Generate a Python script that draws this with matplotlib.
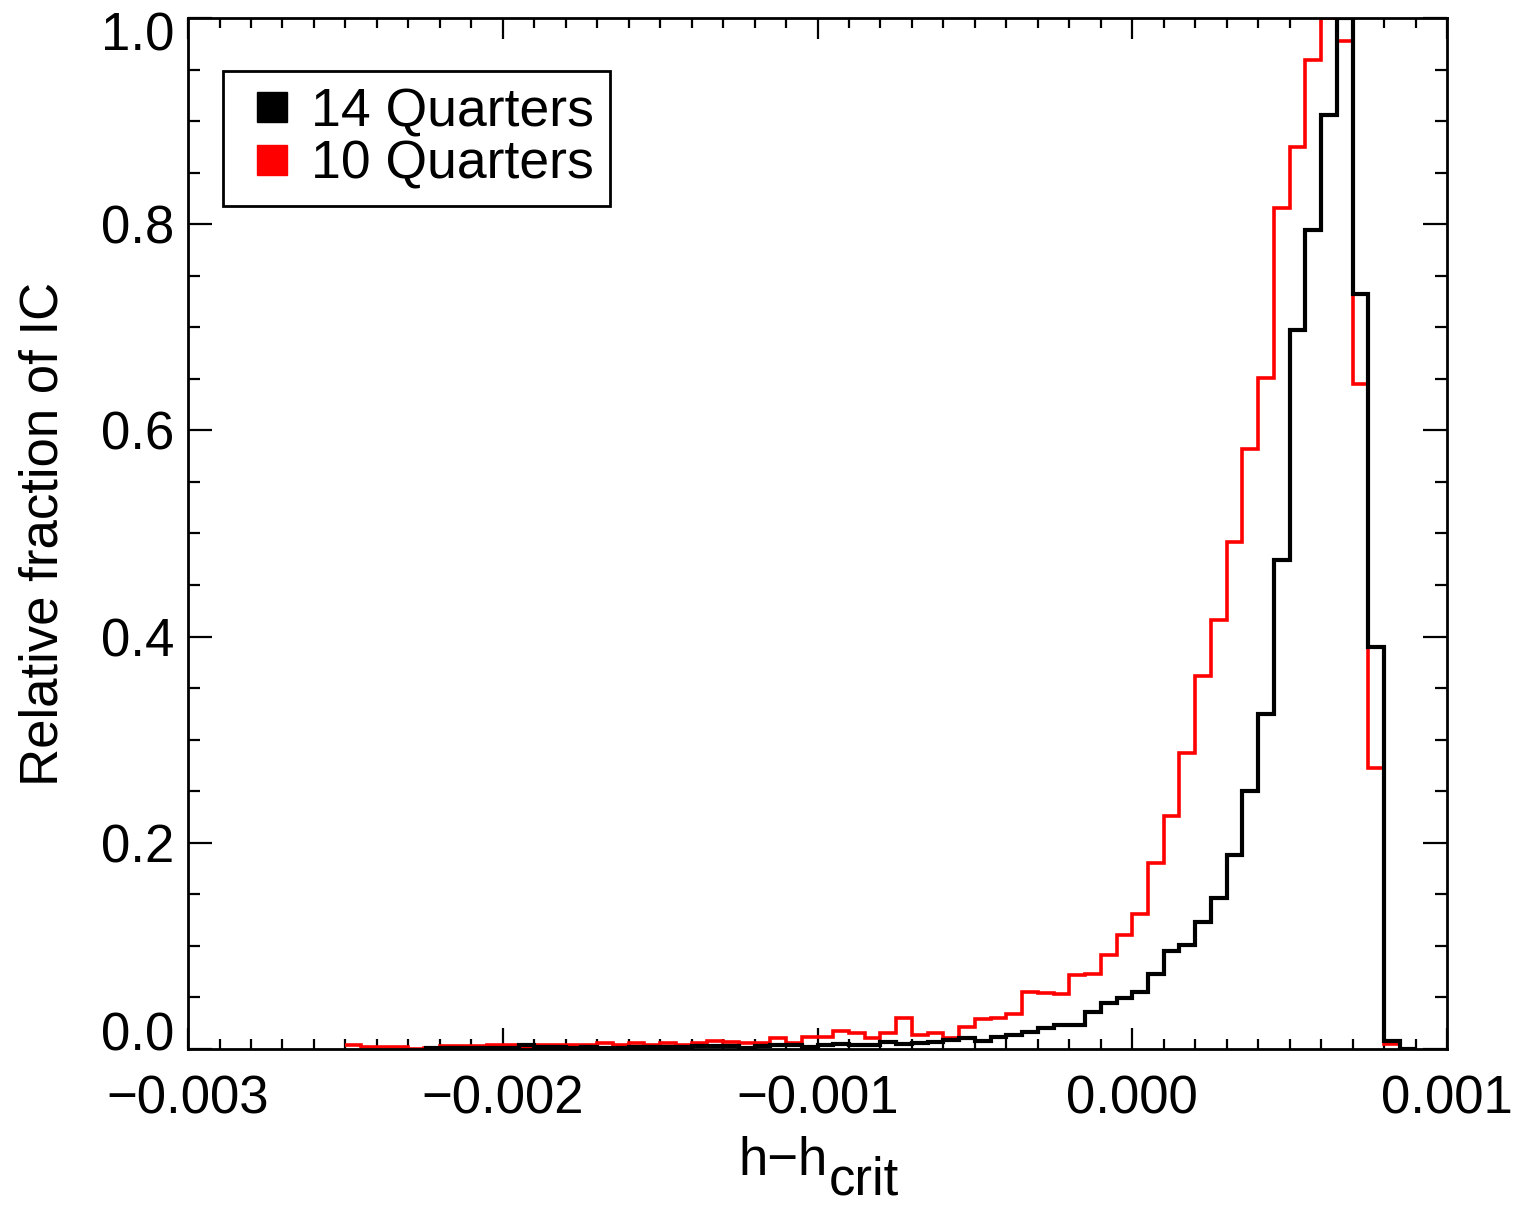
import numpy as np
import matplotlib
matplotlib.use("Agg")
import matplotlib.pyplot as plt
from matplotlib.lines import Line2D
from matplotlib.ticker import MultipleLocator
from matplotlib.transforms import ScaledTranslation

plt.rcParams['font.family'] = ['Liberation Sans', 'DejaVu Sans']

# Гистограммы: ширина бина 5e-5, от -0.0025 до 0.0009
bin_lo = -0.0025
bin_w = 0.00005

q10 = [0.004, 0.002, 0.002, 0.002, 0.0, 0.0005, 0.003, 0.003, 0.003, 0.004,
       0.0035, 0.001, 0.0035, 0.0035, 0.0035, 0.004, 0.006, 0.004, 0.006, 0.004,
       0.006, 0.004, 0.0055, 0.0078, 0.007, 0.006, 0.006, 0.0103, 0.0055, 0.0113,
       0.0113, 0.0175, 0.0152, 0.011, 0.016, 0.030, 0.0136, 0.0152, 0.011, 0.021,
       0.029, 0.030, 0.034, 0.0554, 0.054, 0.053, 0.072, 0.0727, 0.091, 0.111,
       0.131, 0.180, 0.226, 0.287, 0.362, 0.416, 0.492, 0.582, 0.651, 0.816,
       0.875, 0.959, 1.0, 0.978, 0.645, 0.273, 0.005, 0.0]

q14 = [0.0, 0.0, 0.0, 0.0, 0.0, 0.0005, 0.001, 0.001, 0.001, 0.001,
       0.001, 0.0035, 0.0015, 0.0015, 0.001, 0.0015, 0.001, 0.001, 0.002, 0.002,
       0.0015, 0.002, 0.0025, 0.0025, 0.003, 0.001, 0.003, 0.004, 0.004, 0.002,
       0.004, 0.0045, 0.004, 0.004, 0.007, 0.0045, 0.0055, 0.007, 0.009, 0.011,
       0.008, 0.012, 0.014, 0.0165, 0.020, 0.0235, 0.0236, 0.036, 0.0443, 0.0495,
       0.055, 0.073, 0.095, 0.101, 0.123, 0.146, 0.188, 0.250, 0.325, 0.474,
       0.697, 0.794, 0.906, 1.0, 0.732, 0.390, 0.008, 0.0]

edges = bin_lo + bin_w * np.arange(len(q10) + 1)
start14 = 5  # чёрная гистограмма начинается с -0.00225

xtick_vals = [-0.003, -0.002, -0.001, 0.0, 0.001]
xtick_labels = ['\u22120.003', '\u22120.002', '\u22120.001', '0.000', '0.001']
ytick_vals = [0.0, 0.2, 0.4, 0.6, 0.8, 1.0]
ytick_labels = ['0.0', '0.2', '0.4', '0.6', '0.8', '1.0']

fig = plt.figure(figsize=(15.19, 12.07), dpi=100)
ax = fig.add_axes([0.1238, 0.1309, 0.8288, 0.8542])

ax.stairs(q10, edges, color='red', lw=2.6, baseline=None, zorder=2)
ax.stairs(q14[start14:], edges[start14:], color='black', lw=3.0, baseline=None, zorder=3)

ax.set_xlim(-0.003, 0.001)
ax.set_ylim(0, 1.0)
ax.set_xticks(xtick_vals, xtick_labels)
ax.set_yticks(ytick_vals, ytick_labels)
ax.xaxis.set_minor_locator(MultipleLocator(0.0001))
ax.yaxis.set_minor_locator(MultipleLocator(0.05))
ax.tick_params(which='both', direction='in', top=True, right=True, width=1.6,
               labelsize=38)
ax.tick_params(axis='x', which='major', length=15, pad=18)
ax.tick_params(axis='x', which='minor', length=7.5)
ax.tick_params(axis='y', which='major', length=17, pad=10)
ax.tick_params(axis='y', which='minor', length=8.5)
for s in ax.spines.values():
    s.set_linewidth(2)

# крайние подписи по y сдвинуты внутрь, как в IDL
ylabs = ax.get_yticklabels()
ylabs[0].set_transform(ylabs[0].get_transform() + ScaledTranslation(0, 0.18, fig.dpi_scale_trans))
ylabs[-1].set_transform(ylabs[-1].get_transform() + ScaledTranslation(0, -0.135, fig.dpi_scale_trans))

ax.set_ylabel('Relative fraction of IC', fontsize=38)
ax.yaxis.set_label_coords(-0.095, 0.5)

# подпись оси x: h-h_crit с крупным индексом
fig.text(0.5451, 1 - 1175 / 1207, 'h\u2212h', fontsize=38, ha='right', va='baseline')
fig.text(0.5458, 0.001, 'crit', fontsize=38, ha='left', va='bottom')

handles = [Line2D([], [], ls='none', marker='s', ms=21, color='black'),
           Line2D([], [], ls='none', marker='s', ms=21, color='red')]
leg = ax.legend(handles, ['14 Quarters', '10 Quarters'], loc='upper left',
                bbox_to_anchor=(0.0278, 0.9486), borderaxespad=0, fontsize=38.5,
                fancybox=False, framealpha=1, edgecolor='black',
                handlelength=1.23, handletextpad=0.12, labelspacing=0.05,
                borderpad=0.3)
leg.get_frame().set_linewidth(2)

fig.savefig('out.png', dpi=100)
